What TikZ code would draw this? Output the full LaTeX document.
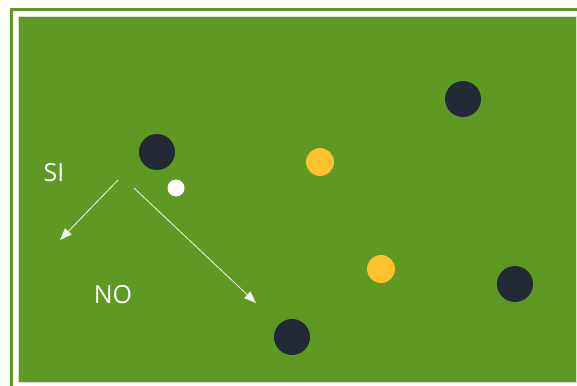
\documentclass[tikz,border=0pt]{standalone}
\usepackage{fontspec}
\setmainfont{Open Sans}
\usetikzlibrary{arrows.meta}
\definecolor{fieldgreen}{RGB}{94, 153, 35}
\definecolor{edgegray}{RGB}{214, 224, 206}
\definecolor{darkball}{RGB}{34, 42, 54}
\definecolor{yellowball}{RGB}{255, 193, 44}

\begin{document}
\begin{tikzpicture}[
  x=1pt, y=-1pt,
  ball/.style={circle, inner sep=0pt, minimum size=36pt},
  player/.style={ball, fill=darkball},
  target/.style={ball, fill=yellowball, minimum size=28pt},
  cue/.style={ball, fill=white, minimum size=17pt},
  move/.style={-{Triangle[length=12pt, width=9pt]}, line width=0.8pt, color=white!92!fieldgreen},
  label/.style={font=\fontsize{25}{30}\selectfont, text=white, inner sep=0pt}
]
\useasboundingbox (0,0) rectangle (577,385);
\clip (0,0) rectangle (577,385);

% frame and field
\draw[fieldgreen, line width=3pt] (11.5,9.5) rectangle (620,420);
\fill[edgegray] (18,16.3) rectangle (576.5,383);
\fill[fieldgreen] (19,17.5) rectangle (575.5,382);

% balls
\node[player] (p1) at (157,152) {};
\node[player] (p2) at (463,99) {};
\node[player] (p3) at (515,284) {};
\node[player] (p4) at (292,337) {};
\node[target] (y1) at (320,162) {};
\node[target] (y2) at (381,269) {};
\node[cue] (w) at (176,188) {};

% labels
\node[label] (si) at (54,173) {SI};
\node[label] (no) at (113,295) {NO};

% arrows
\coordinate (sistart) at (118,180);
\coordinate (siend) at (60,240);
\coordinate (nostart) at (134,188);
\coordinate (noend) at (256,303);
\draw[move] (sistart) -- (siend);
\draw[move] (nostart) -- (noend);
\end{tikzpicture}
\end{document}
